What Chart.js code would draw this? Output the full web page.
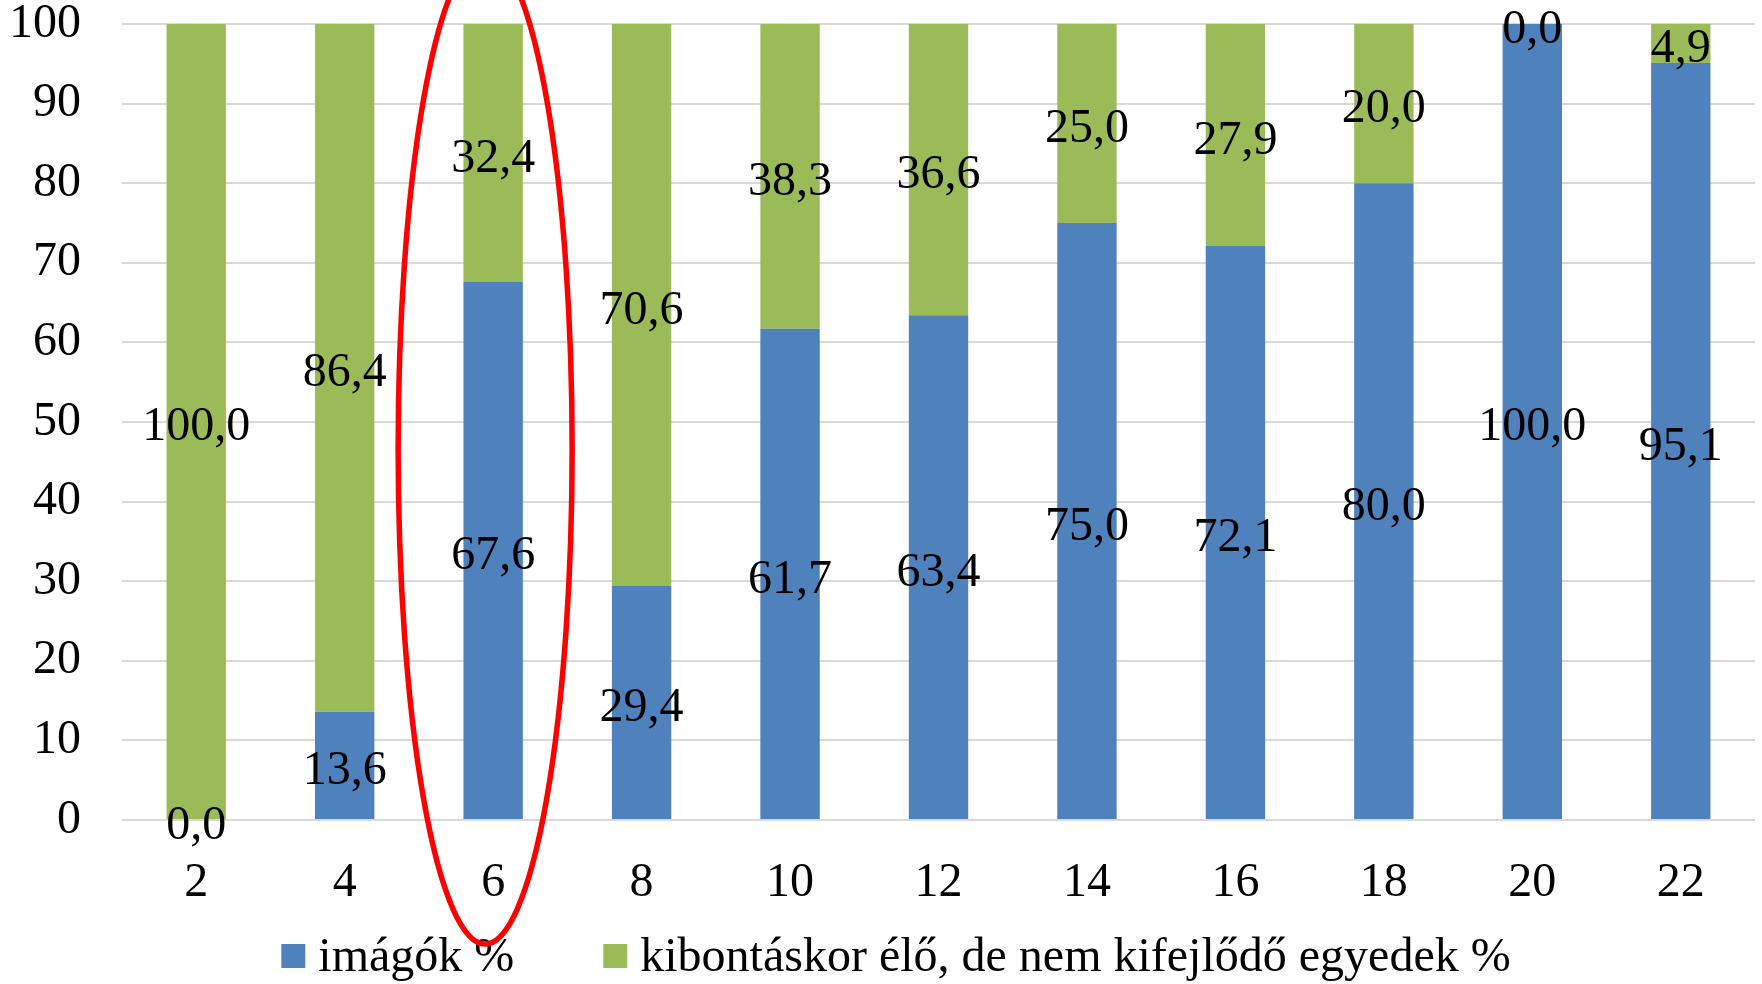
<!DOCTYPE html>
<html>
<head>
<meta charset="utf-8">
<title>Imágók aránya</title>
<script src="https://cdn.jsdelivr.net/npm/chart.js@4/dist/chart.umd.min.js"></script>
<style>
  html, body { margin: 0; padding: 0; background: #fff; }
  #chart { display: block; }
</style>
</head>
<body>
<canvas id="chart" width="1762" height="984"></canvas>
<script>
const categories = ["2", "4", "6", "8", "10", "12", "14", "16", "18", "20", "22"];
const imagoPct = [0.0, 13.6, 67.6, 29.4, 61.7, 63.4, 75.0, 72.1, 80.0, 100.0, 95.1];
const nemKifejlodoPct = [100.0, 86.4, 32.4, 70.6, 38.3, 36.6, 25.0, 27.9, 20.0, 0.0, 4.9];
const yTicks = [0, 10, 20, 30, 40, 50, 60, 70, 80, 90, 100];

const FONT = "'Liberation Serif', 'Times New Roman', serif";
const FONT_SIZE = 48;
const BLUE = "#4F81BD";
const GREEN = "#9BBB59";

Chart.defaults.font.family = FONT;
Chart.defaults.font.size = FONT_SIZE;
Chart.defaults.color = "#000";

function fmt(v) {
  return v.toFixed(1).replace(".", ",");
}

// value labels centred in each stacked segment
const segmentLabels = {
  id: "segmentLabels",
  afterDatasetsDraw(chart) {
    const ctx = chart.ctx;
    ctx.save();
    ctx.font = FONT_SIZE + "px " + FONT;
    ctx.fillStyle = "#000";
    ctx.textAlign = "center";
    ctx.textBaseline = "middle";
    chart.data.datasets.forEach((ds, i) => {
      chart.getDatasetMeta(i).data.forEach((bar, j) => {
        const y = (bar.y + bar.base) / 2;
        ctx.fillText(fmt(ds.data[j]), bar.x, y + 6);
      });
    });
    ctx.restore();
  }
};

// legend row under the axis: square swatch + series name
const bottomLegend = {
  id: "bottomLegend",
  afterDraw(chart) {
    const ctx = chart.ctx;
    const box = 24, gap = 13, itemGap = 89, yMid = 956;
    ctx.save();
    ctx.font = FONT_SIZE + "px " + FONT;
    ctx.textBaseline = "middle";
    ctx.textAlign = "left";
    const items = chart.data.datasets.map(ds => ({
      text: ds.label,
      color: ds.backgroundColor,
      w: ctx.measureText(ds.label).width
    }));
    const total = items.reduce((s, it) => s + box + gap + it.w, 0) + itemGap * (items.length - 1);
    let x = chart.width / 2 + 15 - total / 2;
    items.forEach(it => {
      ctx.fillStyle = it.color;
      ctx.fillRect(x, yMid - box / 2, box, box);
      ctx.fillStyle = "#000";
      ctx.fillText(it.text, x + box + gap, yMid + 2);
      x += box + gap + it.w + itemGap;
    });
    ctx.restore();
  }
};

// red ring around the 6 column
const highlight = {
  id: "highlight",
  afterDraw(chart) {
    const ctx = chart.ctx;
    const cx = chart.scales.x.getPixelForValue(2) - 8;
    const cy = chart.scales.y.getPixelForValue(46.6);
    ctx.save();
    ctx.strokeStyle = "#FF0000";
    ctx.lineWidth = 5.5;
    ctx.beginPath();
    ctx.ellipse(cx, cy, 87, 495, 0, 0, Math.PI * 2);
    ctx.stroke();
    ctx.restore();
  }
};

new Chart(document.getElementById("chart"), {
  type: "bar",
  data: {
    labels: categories,
    datasets: [
      {
        label: "imágók %",
        data: imagoPct,
        backgroundColor: BLUE,
        categoryPercentage: 1,
        barPercentage: 0.4
      },
      {
        label: "kibontáskor élő, de nem kifejlődő egyedek %",
        data: nemKifejlodoPct,
        backgroundColor: GREEN,
        categoryPercentage: 1,
        barPercentage: 0.4
      }
    ]
  },
  options: {
    responsive: false,
    animation: false,
    layout: {
      padding: { top: 24, right: 7, bottom: 64, left: 0 }
    },
    scales: {
      x: {
        stacked: true,
        afterFit: s => { s.height = 100; },
        grid: { display: false, drawTicks: false },
        border: { display: false },
        ticks: { padding: 35 }
      },
      y: {
        stacked: true,
        min: 0,
        max: 100,
        afterFit: s => {
          s.width = 122;
          s.paddingTop = 0;
          s.paddingBottom = 0;
        },
        afterBuildTicks: s => { s.ticks = yTicks.map(v => ({ value: v })); },
        grid: { color: "#D9D9D9", lineWidth: 2, drawTicks: false },
        border: { display: false },
        ticks: { padding: 41 }
      }
    },
    plugins: {
      tooltip: { enabled: false },
      legend: { display: false }
    }
  },
  plugins: [segmentLabels, bottomLegend, highlight]
});
</script>
</body>
</html>
